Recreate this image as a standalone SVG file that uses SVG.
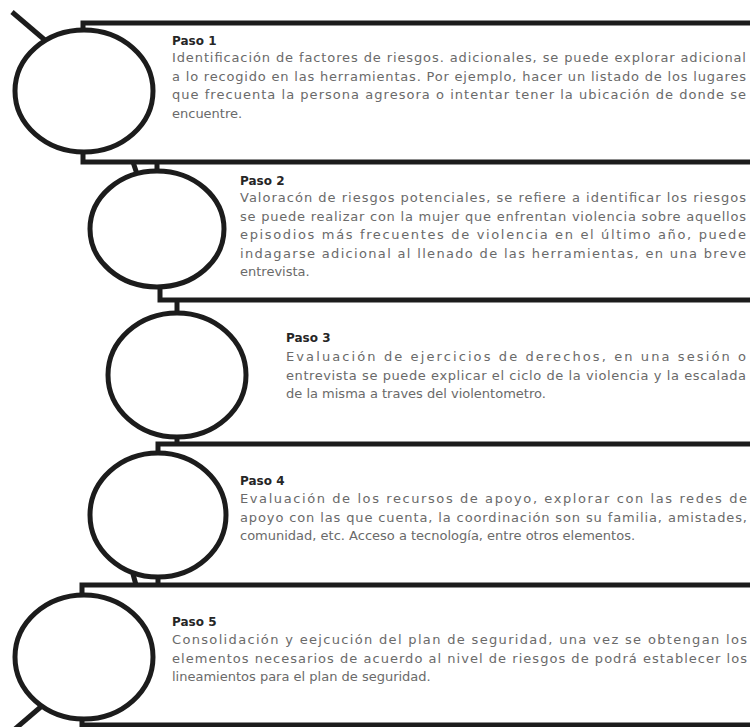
<svg xmlns="http://www.w3.org/2000/svg" width="750" height="727" viewBox="0 0 750 727">
<style>
.ln{stroke:#1c1c1c;stroke-width:5;fill:none;stroke-linecap:butt}
.cir{stroke:#1c1c1c;stroke-width:5;fill:#fff}
.t{font-family:"DejaVu Sans","Open Sans","Liberation Sans",sans-serif;font-size:12px;font-weight:700;fill:#262626}
.b{font-family:"DejaVu Sans","Open Sans","Liberation Sans",sans-serif;font-size:13px;fill:#6a6a6a}
</style>
<rect width="750" height="727" fill="#fff"/>
<g id="connectors">
<path class="ln" d="M12,12 L46,41"/>
<path class="ln" d="M83,31 V23 H750"/>
<path class="ln" d="M83,151 V162 H750"/>
<path class="ln" d="M133,162 L137,174 M157,162 V173"/>
<path class="ln" d="M160,286 V300 H750"/>
<path class="ln" d="M177,300 V314"/>
<path class="ln" d="M177,436 V444"/>
<path class="ln" d="M158,455 V444 H750"/>
<path class="ln" d="M133,574 L136,585 M158,577 V585"/>
<path class="ln" d="M82,596 V585 H750"/>
<path class="ln" d="M82,718 V727 M82,725 H750"/>
<path class="ln" d="M43,705 L15,729"/>
</g>
<g id="step1">
<ellipse class="cir" cx="84" cy="91" rx="69" ry="61"/>
<text class="t" x="172" y="45">Paso 1</text>
<text class="b" x="172" y="62" textLength="574" lengthAdjust="spacing">Identificación de factores de riesgos. adicionales, se puede explorar adicional</text>
<text class="b" x="172" y="80.5" textLength="574" lengthAdjust="spacing">a lo recogido en las herramientas. Por ejemplo, hacer un listado de los lugares</text>
<text class="b" x="172" y="99" textLength="574" lengthAdjust="spacing">que frecuenta la persona agresora o intentar tener la ubicación de donde se</text>
<text class="b" x="172" y="117.5">encuentre.</text>
</g>
<g id="step2">
<ellipse class="cir" cx="157" cy="229" rx="67" ry="58"/>
<text class="t" x="240" y="185">Paso 2</text>
<text class="b" x="240" y="202" textLength="506" lengthAdjust="spacing">Valoracón de riesgos potenciales, se refiere a identificar los riesgos</text>
<text class="b" x="240" y="220.5" textLength="506" lengthAdjust="spacing">se puede realizar con la mujer que enfrentan violencia sobre aquellos</text>
<text class="b" x="240" y="239" textLength="506" lengthAdjust="spacing">episodios más frecuentes de violencia en el último año, puede</text>
<text class="b" x="240" y="257.5" textLength="506" lengthAdjust="spacing">indagarse adicional al llenado de las herramientas, en una breve</text>
<text class="b" x="240" y="276">entrevista.</text>
</g>
<g id="step3">
<ellipse class="cir" cx="177" cy="375" rx="69" ry="62"/>
<text class="t" x="286" y="342">Paso 3</text>
<text class="b" x="286" y="361" textLength="460" lengthAdjust="spacing">Evaluación de ejercicios de derechos, en una sesión o</text>
<text class="b" x="286" y="379.5" textLength="460" lengthAdjust="spacing">entrevista se puede explicar el ciclo de la violencia y la escalada</text>
<text class="b" x="286" y="398">de la misma a traves del violentometro.</text>
</g>
<g id="step4">
<ellipse class="cir" cx="158" cy="515" rx="68" ry="62"/>
<text class="t" x="240" y="485">Paso 4</text>
<text class="b" x="240" y="503" textLength="507" lengthAdjust="spacing">Evaluación de los recursos de apoyo, explorar con las redes de</text>
<text class="b" x="240" y="521.5" textLength="507" lengthAdjust="spacing">apoyo con las que cuenta, la coordinación son su familia, amistades,</text>
<text class="b" x="240" y="540">comunidad, etc. Acceso a tecnología, entre otros elementos.</text>
</g>
<g id="step5">
<ellipse class="cir" cx="84" cy="657" rx="69" ry="62"/>
<text class="t" x="172" y="626">Paso 5</text>
<text class="b" x="172" y="644" textLength="575" lengthAdjust="spacing">Consolidación y eejcución del plan de seguridad, una vez se obtengan los</text>
<text class="b" x="172" y="662.5" textLength="575" lengthAdjust="spacing">elementos necesarios de acuerdo al nivel de riesgos de podrá establecer los</text>
<text class="b" x="172" y="681">lineamientos para el plan de seguridad.</text>
</g>
</svg>
